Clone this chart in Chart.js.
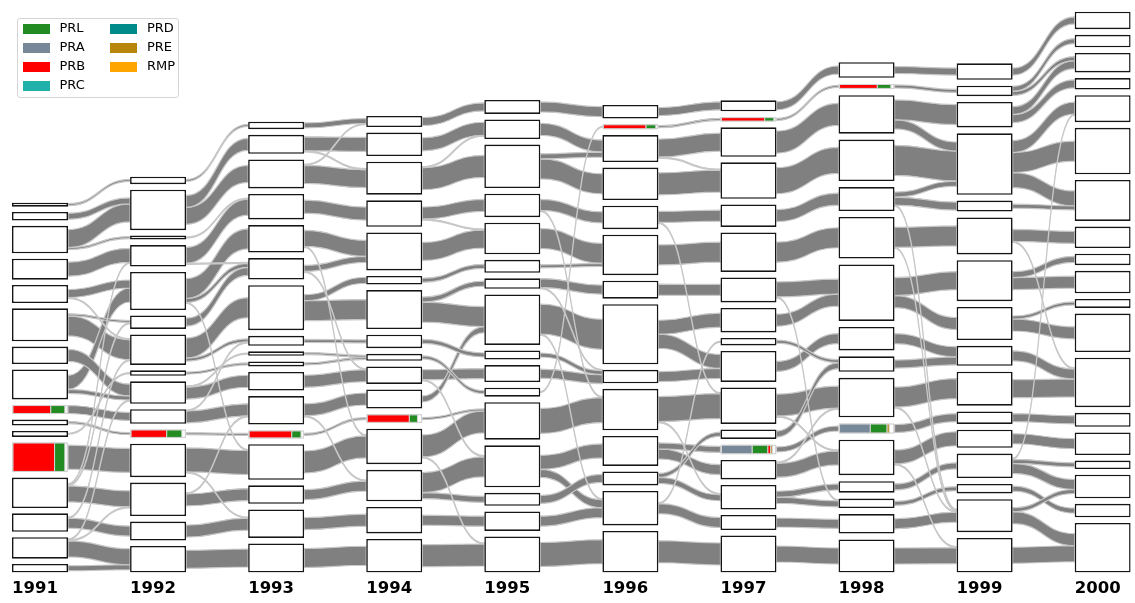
<!DOCTYPE html>
<html>
<head>
<meta charset="utf-8">
<script src="https://cdn.jsdelivr.net/npm/chart.js@4"></script>
<style>
  body { margin: 0; background: #fff; }
  #wrap { position: relative; width: 1135px; height: 603px; }
  #legend {
    position: absolute; left: 17px; top: 17.5px; width: 160px; height: 78px;
    border: 1px solid #d5d5d5; border-radius: 3px; background: rgba(255,255,255,0.85);
    font-family: "DejaVu Sans", sans-serif; font-size: 13px; color: #000;
  }
  .item { position: absolute; height: 14px; line-height: 14px; white-space: nowrap; }
  .patch { position: absolute; left: 0; top: 2px; width: 27px; height: 10px; }
  .lbl { position: absolute; left: 37px; top: -1px; }
</style>
</head>
<body>
<div id="wrap">
  <canvas id="alluvial"></canvas>
  <div id="legend"></div>
</div>
<script>
const years = ['1991', '1992', '1993', '1994', '1995', '1996', '1997', '1998', '1999', '2000'];

const series = ['PRL', 'PRA', 'PRB', 'PRC', 'PRD', 'PRE', 'RMP'];
const seriesColors = ['#228b22', '#778899', '#ff0000', '#20b2aa', '#008b8b', '#b8860b', '#ffa500'];

// box sizes per year, listed top to bottom
const boxSizes = [
  [4, 8.5, 27.5, 21, 18, 33, 17.5, 30, 9.5, 6, 6, 30, 30.5, 18.5, 21.5, 8.5],
  [7.5, 40.5, 4, 21.5, 38, 13.5, 30.5, 5.5, 22.5, 14.5, 9, 33.5, 33.5, 19, 26.5],
  [7.5, 19, 29, 25.5, 27.5, 21.5, 45, 10, 4.5, 5, 18.5, 28.5, 8.5, 35.5, 18.5, 28.5, 29],
  [11, 23.5, 33, 26.5, 38, 8.5, 39, 13.5, 7, 17.5, 19, 9, 35.5, 31.5, 26.5, 33.5],
  [14, 19.5, 43.5, 23.5, 31.5, 13, 10.5, 50.5, 9, 17, 9, 37.5, 42, 13, 19.5, 36],
  [13.5, 5.5, 27, 32.5, 23.5, 40.5, 18, 60, 13.5, 41.5, 30, 14, 34.5, 41.5],
  [11, 5, 29.5, 36.5, 22.5, 39.5, 25, 24.5, 7.5, 31, 36.5, 9.5, 10, 19.5, 24.5, 15, 37],
  [15.5, 5.5, 38.5, 41.5, 24, 41.5, 56.5, 23.5, 15.5, 39.5, 10.5, 35.5, 11.5, 9.5, 19.5, 33],
  [16.5, 10.5, 25.5, 61.5, 11, 37, 41, 33, 20, 34, 12.5, 18, 24.5, 9.5, 33, 34.5],
  [17.5, 12.5, 19.5, 11.5, 27, 46.5, 41, 21.5, 11.5, 22.5, 9, 38.5, 49.5, 14, 22.5, 8.5, 23.5, 13.5, 49.5]
];

// flows between consecutive years: [source box, target box, size]
const flows = [
  [[0,0,2],[1,1,6],[2,1,18],[2,2,2],[3,3,14],[4,4,8],[4,6,1],[5,5,2],[5,6,20],[6,8,12],[7,4,14],[7,8,4],[8,9,8],[9,10,2],[10,7,1],[11,11,24],[12,12,16],[12,5,1],[13,13,10],[13,6,1],[14,14,16],[14,8,1],[15,14,5],[12,3,1],[14,12,1]],
  [[0,0,2],[1,1,12],[1,2,17],[2,3,1],[3,3,16],[4,4,20],[4,5,4],[5,5,8],[6,6,20],[6,7,3],[7,9,2],[8,10,12],[8,8,1],[9,11,12],[10,12,2],[11,13,24],[11,15,1],[12,14,12],[12,11,1],[13,15,12],[14,16,18],[4,13,1],[3,5,1],[9,7,1]],
  [[0,0,5],[1,1,14],[1,2,1],[2,2,18],[2,0,1],[3,3,13],[4,4,16],[5,4,6],[5,9,1],[6,5,6],[6,6,20],[7,7,3],[8,8,2],[9,8,2],[10,9,12],[11,10,12],[11,13,1],[12,11,2],[13,12,22],[14,13,10],[15,14,12],[16,15,19],[4,12,1]],
  [[0,0,8],[1,1,13],[2,2,22],[2,1,1],[3,3,12],[3,4,1],[4,4,18],[5,5,4],[6,6,5],[6,7,20],[7,8,4],[8,10,3],[9,9,10],[10,7,6],[11,11,2],[12,11,22],[13,12,20],[13,13,6],[14,14,10],[15,15,22],[9,12,1],[12,15,1]],
  [[0,0,10],[1,2,12],[2,2,5],[2,3,20],[3,4,11],[4,5,20],[5,5,3],[6,6,9],[6,8,1],[7,7,30],[7,12,1],[8,8,4],[9,8,9],[10,1,1],[11,9,25],[12,10,14],[12,12,8],[13,11,8],[14,12,10],[15,13,24],[3,9,1]],
  [[0,0,8],[1,1,2],[2,2,18],[2,3,1],[3,3,22],[4,4,11],[5,5,20],[6,6,11],[7,7,14],[7,9,14],[8,9,10],[9,10,25],[9,14,1],[10,12,6],[10,13,10],[11,14,6],[12,15,10],[12,8,1],[13,16,22],[4,10,1],[11,11,4]],
  [[0,0,8],[1,1,2],[2,2,22],[3,3,26],[4,4,12],[5,5,20],[6,6,15],[7,6,12],[8,8,3],[9,7,10],[10,9,22],[11,8,6],[12,10,5],[13,11,14],[14,12,6],[14,13,6],[15,14,9],[16,15,16],[6,13,1],[10,11,1],[13,9,1]],
  [[0,0,7],[1,1,3],[2,2,20],[2,3,9],[3,3,30],[4,3,5],[4,4,8],[4,14,1],[5,5,20],[5,14,1],[6,6,18],[6,7,12],[7,8,10],[8,8,8],[9,9,20],[9,14,1],[10,10,8],[11,11,14],[12,12,6],[13,13,4],[14,14,10],[15,15,16],[11,15,1]],
  [[0,0,7],[1,1,5],[1,2,4],[2,2,8],[2,3,8],[3,4,12],[3,5,20],[3,6,15],[4,6,4],[5,7,12],[6,8,6],[6,9,12],[7,10,3],[7,11,12],[8,12,10],[9,12,18],[10,13,8],[11,14,10],[12,15,4],[12,16,10],[13,17,5],[14,18,12],[14,16,4],[15,18,16],[5,12,1],[12,4,1]]
];

// boxes split by series: [year index, box index, [[series, share], ...]]
const mixes = [
  [0, 8, [['PRB', 0.70], ['PRL', 0.26]]],
  [0, 11, [['PRB', 0.77], ['PRL', 0.19]]],
  [1, 10, [['PRB', 0.66], ['PRL', 0.28]]],
  [2, 12, [['PRB', 0.79], ['PRL', 0.17]]],
  [3, 11, [['PRB', 0.78], ['PRL', 0.15]]],
  [5, 1, [['PRB', 0.79], ['PRL', 0.18]]],
  [6, 1, [['PRB', 0.80], ['PRL', 0.17]]],
  [6, 12, [['PRA', 0.57], ['PRL', 0.29], ['PRB', 0.05], ['PRE', 0.03]]],
  [7, 1, [['PRB', 0.70], ['PRL', 0.25]]],
  [7, 10, [['PRA', 0.57], ['PRL', 0.31], ['PRE', 0.04]]]
];

// layout settings
const yearGap = [5.32, 5.45, 5.58, 5.6, 5.57, 5.54, 5.51, 5.95, 5.81, 5.63];
const boxW = 56 / 118.08;

// stack the boxes of each year from the bottom up
const layout = boxSizes.map((sizes, i) => {
  const out = [];
  let y = 0;
  for (let k = sizes.length - 1; k >= 0; k--) {
    out[k] = [y, y + sizes[k]];
    y += sizes[k] + yearGap[i];
  }
  return out;
});

const isMixed = (yi, bi) => mixes.some(m => m[0] === yi && m[1] === bi);

const maxBoxes = Math.max(...boxSizes.map(s => s.length));
const datasets = [];
for (let k = 0; k < maxBoxes; k++) {
  const data = [];
  boxSizes.forEach((sizes, i) => {
    if (k < sizes.length) data.push({ x: i + boxW / 2, y: layout[i][k], mixed: isMixed(i, k) });
  });
  datasets.push({
    data: data,
    grouped: false,
    categoryPercentage: 1,
    barPercentage: boxW,
    backgroundColor: '#ffffff',
    borderColor: c => (c.raw && c.raw.mixed ? '#d3d3d3' : '#151515'),
    borderWidth: c => (c.raw && c.raw.mixed ? 1.5 : 1.6),
    borderSkipped: false
  });
}

const flowPlugin = {
  id: 'flows',
  beforeDatasetsDraw(chart) {
    const { ctx, scales: { x, y } } = chart;
    const bands = [];
    flows.forEach((list, i) => {
      const src = layout[i], dst = layout[i + 1];
      const outPos = {}, inPos = {};
      const bySrc = list.slice().sort((a, b) => a[0] - b[0] || a[1] - b[1]);
      const byDst = list.slice().sort((a, b) => a[1] - b[1] || a[0] - b[0]);
      const outTot = {}, inTot = {};
      list.forEach(f => {
        outTot[f[0]] = (outTot[f[0]] || 0) + f[2];
        inTot[f[1]] = (inTot[f[1]] || 0) + f[2];
      });
      const sTop = {}, tTop = {};
      bySrc.forEach(f => {
        const b = src[f[0]];
        if (sTop[f[0]] === undefined) sTop[f[0]] = (b[0] + b[1]) / 2 + outTot[f[0]] / 2;
        outPos[f.join()] = [sTop[f[0]], sTop[f[0]] - f[2]];
        sTop[f[0]] -= f[2];
      });
      byDst.forEach(f => {
        const b = dst[f[1]];
        if (tTop[f[1]] === undefined) tTop[f[1]] = (b[0] + b[1]) / 2 + inTot[f[1]] / 2;
        inPos[f.join()] = [tTop[f[1]], tTop[f[1]] - f[2]];
        tTop[f[1]] -= f[2];
      });
      list.forEach(f => {
        bands.push({ i: i, v: f[2], s: outPos[f.join()], t: inPos[f.join()] });
      });
    });
    bands.sort((a, b) => b.v - a.v);
    ctx.save();
    ctx.fillStyle = '#808080';
    ctx.strokeStyle = '#c8c8c8';
    ctx.lineWidth = 1.2;
    bands.forEach(b => {
      const x0 = x.getPixelForValue(b.i + boxW);
      const x1 = x.getPixelForValue(b.i + 1);
      const xm = (x0 + x1) / 2;
      const s0 = y.getPixelForValue(b.s[0]), s1 = y.getPixelForValue(b.s[1]);
      const t0 = y.getPixelForValue(b.t[0]), t1 = y.getPixelForValue(b.t[1]);
      ctx.beginPath();
      ctx.moveTo(x0, s0);
      ctx.bezierCurveTo(xm, s0, xm, t0, x1, t0);
      ctx.lineTo(x1, t1);
      ctx.bezierCurveTo(xm, t1, xm, s1, x0, s1);
      ctx.closePath();
      ctx.fill();
      ctx.stroke();
    });
    ctx.restore();
  },
  afterDatasetsDraw(chart) {
    const { ctx, scales: { x, y } } = chart;
    ctx.save();
    ctx.strokeStyle = '#d3d3d3';
    ctx.lineWidth = 1;
    mixes.forEach(([yi, bi, parts]) => {
      const box = layout[yi][bi];
      const left = x.getPixelForValue(yi) + 1;
      const right = x.getPixelForValue(yi + boxW) - 1;
      const top = y.getPixelForValue(box[1]) + 0.8;
      const bottom = y.getPixelForValue(box[0]) - 0.8;
      const w = right - left;
      let cx = left;
      parts.forEach(([name, share]) => {
        const pw = share * w;
        ctx.fillStyle = seriesColors[series.indexOf(name)];
        ctx.fillRect(cx, top, pw, bottom - top);
        ctx.strokeRect(cx, top, pw, bottom - top);
        cx += pw;
      });
    });
    ctx.restore();
  }
};

new Chart(document.getElementById('alluvial'), {
  type: 'bar',
  data: { datasets: datasets },
  options: {
    responsive: true,
    maintainAspectRatio: false,
    animation: false,
    events: [],
    layout: { padding: { left: 12, right: 4.3, top: 11.5, bottom: 4.5 } },
    plugins: { legend: { display: false }, tooltip: { enabled: false } },
    scales: {
      x: {
        type: 'linear',
        offset: false,
        min: 0,
        max: 9 + boxW,
        grid: { display: false, drawTicks: false, offset: false },
        border: { display: false },
        afterBuildTicks: s => { s.ticks = years.map((_, i) => ({ value: i })); },
        afterFit: s => { s.height = 26; },
        ticks: {
          align: 'start',
          padding: 6,
          maxRotation: 0,
          autoSkip: false,
          color: '#000',
          font: { family: 'DejaVu Sans', size: 16.5, weight: 'bold' },
          callback: v => years[v]
        }
      },
      y: { display: false, min: 0, max: 561 }
    }
  },
  plugins: [flowPlugin]
});

// legend, filled column by column (4 rows)
const legend = document.getElementById('legend');
series.forEach((name, i) => {
  const col = Math.floor(i / 4), row = i % 4;
  const item = document.createElement('div');
  item.className = 'item';
  item.style.left = (4.5 + col * 87.5) + 'px';
  item.style.top = (3.8 + row * 18.9) + 'px';
  item.innerHTML = '<span class="patch" style="background:' + seriesColors[i] + '"></span><span class="lbl">' + name + '</span>';
  legend.appendChild(item);
});
</script>
</body>
</html>
